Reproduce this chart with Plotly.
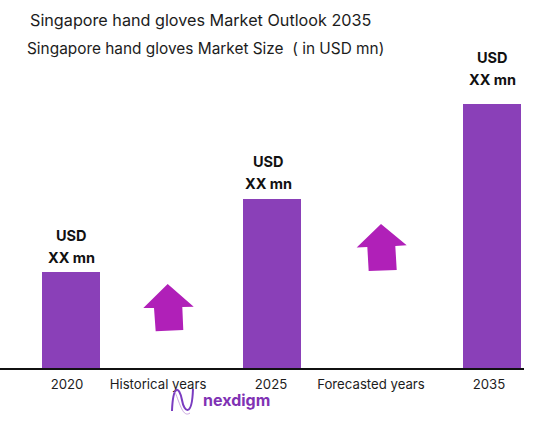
import plotly.graph_objects as go

years = ["2020", "2025", "2035"]
market_size = [96, 169, 264]
value_labels = ["XX mn", "XX mn", "XX mn"]

tick_labels = ["2020", "Historical years", "2025", "Forecasted years", "2035"]

# layout, in pixels of the 552x424 picture
WIDTH = 552
HEIGHT = 424
BASE_Y = 368
AXIS_END = 524
bar_centers = [71, 272, 492]
label_centers = [71, 268, 492]
label_gaps = [0, 1, 10]
tick_positions = [67, 158, 271, 371, 489]

BAR_COLOR = "#8A40B8"
ARROW_COLOR = "#B020B8"
LOGO_COLOR = "#8032B4"
TEXT_COLOR = "#1C1C1C"
FONT = "Inter"


def px(x, y):
    # picture pixels to paper coordinates of the plot area
    return f"{x / AXIS_END:.4f},{(BASE_Y - y) / BASE_Y:.4f}"


def px_path(points):
    return "M" + " L".join(px(x, y) for x, y in points) + " Z"


def curve_path(segments):
    parts = []
    for cmd, pts in segments:
        parts.append(cmd + " ".join(px(x, y) for x, y in pts))
    return " ".join(parts)


fig = go.Figure()

fig.add_trace(
    go.Bar(x=bar_centers,
           y=market_size,
           width=58,
           marker_color=BAR_COLOR,
           marker_line_width=0,
           hovertext=years,
           showlegend=False)
)

# two text lines over each bar
for x, y, gap, label in zip(label_centers, market_size, label_gaps, value_labels):
    fig.add_annotation(x=x, y=y, text="<b>USD</b>", showarrow=False, yanchor="middle",
                       yshift=37 + gap, font=dict(family=FONT, size=14.5, color="#111111"))
    fig.add_annotation(x=x, y=y, text="<b>" + label + "</b>", showarrow=False, yanchor="middle",
                       yshift=15 + gap, font=dict(family=FONT, size=14.5, color="#111111"))

# titles
fig.add_annotation(xref="paper", yref="paper", x=28 / AXIS_END, y=(BASE_Y - 20) / BASE_Y,
                   text="Singapore hand gloves Market Outlook 2035", showarrow=False,
                   xanchor="left", yanchor="middle",
                   font=dict(family=FONT, size=16.2, color=TEXT_COLOR))
fig.add_annotation(xref="paper", yref="paper", x=25 / AXIS_END, y=(BASE_Y - 48) / BASE_Y,
                   text="Singapore hand gloves Market Size  ( in USD mn)", showarrow=False,
                   xanchor="left", yanchor="middle",
                   font=dict(family=FONT, size=15.4, color=TEXT_COLOR))

# arrows
arrow_left = [(167.7, 284), (193.7, 306.7), (182.3, 307), (183.3, 330),
              (155.7, 331.3), (154, 308), (143.3, 308)]
arrow_right = [(381, 224), (406.7, 245.3), (395.3, 246), (396.7, 270),
               (368.7, 271), (367.3, 247), (356.7, 247.5)]
for arrow in [arrow_left, arrow_right]:
    fig.add_shape(type="path", xref="paper", yref="paper", path=px_path(arrow),
                  fillcolor=ARROW_COLOR, line_width=0, layer="above")

# logo mark
wave_a = [("M", [(172, 411)]), ("C", [(173, 385), (179, 385), (182, 400)]),
          ("C", [(184, 412), (192, 418), (193, 389)])]
wave_b = [("M", [(175, 392)]), ("C", [(180, 404), (183, 418), (190, 413)])]
fig.add_shape(type="path", xref="paper", yref="paper", path=curve_path(wave_a),
              line=dict(color="#7A3CC0", width=2), layer="above")
fig.add_shape(type="path", xref="paper", yref="paper", path=curve_path(wave_b),
              line=dict(color="#C9A5E0", width=1), layer="above")
fig.add_annotation(xref="paper", yref="paper", x=201 / AXIS_END, y=(BASE_Y - 400) / BASE_Y,
                   text="<b>nexdigm</b>", showarrow=False, xanchor="left", yanchor="middle",
                   font=dict(family=FONT, size=16, color=LOGO_COLOR))

fig.update_xaxes(range=[0, AXIS_END],
                 tickvals=tick_positions,
                 ticktext=tick_labels,
                 tickfont=dict(family=FONT, size=13.2, color=TEXT_COLOR),
                 ticklabelstandoff=3,
                 ticks="",
                 showgrid=False,
                 zeroline=False,
                 showline=True,
                 linecolor="#111111",
                 linewidth=2)
fig.update_yaxes(range=[0, BASE_Y], visible=False, showgrid=False, zeroline=False)

fig.update_layout(
    width=WIDTH,
    height=HEIGHT,
    margin=dict(l=0, r=WIDTH - AXIS_END, t=0, b=HEIGHT - BASE_Y),
    paper_bgcolor="white",
    plot_bgcolor="white",
    showlegend=False,
)

# the page's default body margin would push the chart 8px down and right
fig.write_html("out.html", config=dict(displayModeBar=False),
               post_script="document.body.style.margin='0';")
